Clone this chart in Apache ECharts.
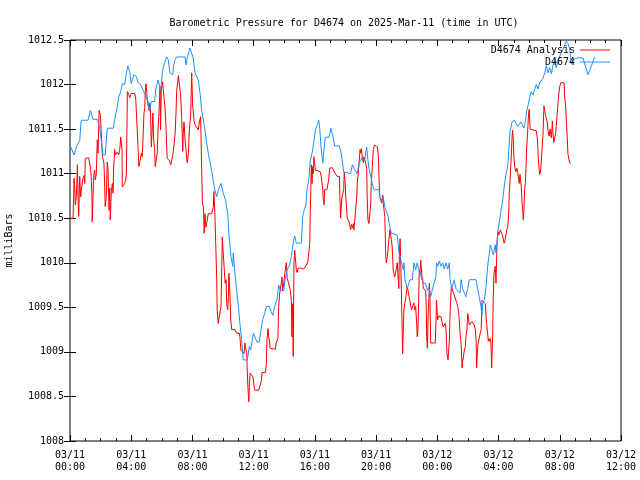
<!DOCTYPE html>
<html>
<head>
<meta charset="utf-8">
<script src="https://cdn.jsdelivr.net/npm/echarts@6/dist/echarts.min.js"></script>
<style>html,body{margin:0;padding:0;background:#fff}#c{width:640px;height:480px}</style>
</head>
<body>
<div id="c"></div>
<script>
// time in minutes since 2025-03-11 00:00 UTC
const seriesNames = ['D4674 Analysis', 'D4674'];
const xTickLabels = ['03/11\n00:00','03/11\n04:00','03/11\n08:00','03/11\n12:00','03/11\n16:00','03/11\n20:00','03/12\n00:00','03/12\n04:00','03/12\n08:00','03/12\n12:00'];
const yTickLabels = ['1008','1008.5','1009','1009.5','1010','1010.5','1011','1011.5','1012','1012.5'];

const blueTimes = [
3,16,25,38,44,71,80,90,107,116,
129,138,146,169,175,185,191,199,205,214,
221,227,234,240,250,260,267,277,286,293,
306,312,319,332,336,345,356,362,366,372,
379,385,392,403,405,412,418,451,455,460,
470,477,483,490,503,510,516,523,529,536,
542,552,559,566,575,585,592,601,610,618,
624,631,638,640,647,653,660,666,673,679,
695,703,708,719,725,733,742,749,755,763,
770,781,789,795,802,811,818,824,838,844,
851,860,868,877,881,887,907,912,920,925,
929,936,942,949,955,962,968,975,979,984,
991,995,1001,1016,1023,1030,1038,1056,1063,1073,
1079,1100,1107,1113,1126,1133,1140,1146,1155,1163,
1168,1172,1179,1185,1192,1211,1215,1220,1228,1234,
1241,1247,1254,1260,1283,1286,1290,1296,1307,1309,
1313,1322,1329,1333,1342,1348,1355,1361,1368,1377,
1385,1394,1401,1407,1414,1420,1427,1434,1437,1441,
1448,1454,1461,1467,1474,1481,1487,1490,1497,1506,
1513,1520,1529,1533,1539,1546,1552,1559,1565,1592,
1598,1604,1611,1615,1618,1624,1631,1637,1644,1648,
1654,1659,1667,1670,1674,1677,1683,1690,1696,1702,
1709,1716,1720,1725,1733,1742,1748,1755,1761,1768,
1775,1779,1785,1790,1797,1803,1808,1815,1822,1828,
1835,1841,1848,1854,1861,1867,1874,1880,1887,1893,
1900,1906,1913,1920,1926,1933,1939,1946,1952,1959,
1965,1972,1991,2011,2018,2031,2044,2057];
const blueValues = [
1011.30,1011.21,1011.30,1011.37,1011.60,1011.60,1011.71,1011.61,1011.61,1011.53,
1011.21,1011.21,1011.51,1011.51,1011.60,1011.75,1011.86,1011.92,1012.01,1012.00,
1012.13,1012.21,1012.15,1012.01,1012.11,1012.09,1012.02,1012.00,1011.94,1011.90,
1011.81,1011.70,1011.81,1011.81,1011.94,1012.05,1011.94,1012.13,1012.20,1012.22,
1012.31,1012.28,1012.13,1012.11,1012.20,1012.28,1012.31,1012.31,1012.22,1012.31,
1012.41,1012.35,1012.30,1012.13,1012.05,1011.90,1011.71,1011.60,1011.49,1011.34,
1011.23,1011.08,1010.97,1010.84,1010.74,1010.85,1010.89,1010.78,1010.70,1010.56,
1010.29,1010.07,1009.96,1010.11,1009.88,1009.69,1009.51,1009.32,1009.13,1008.91,
1008.91,1009.06,1009.02,1009.21,1009.21,1009.11,1009.11,1009.26,1009.36,1009.43,
1009.51,1009.51,1009.45,1009.41,1009.51,1009.58,1009.75,1009.69,1009.69,1009.83,
1009.92,1009.97,1010.07,1010.26,1010.30,1010.22,1010.22,1010.52,1010.61,1010.65,
1010.82,1010.93,1011.15,1011.23,1011.34,1011.49,1011.54,1011.60,1011.51,1011.30,
1011.12,1011.26,1011.41,1011.41,1011.51,1011.43,1011.31,1011.31,1011.23,1011.02,
1011.00,1011.00,1011.10,1011.06,1011.00,1011.11,1011.15,1011.19,1011.15,1011.30,
1011.15,1011.06,1010.97,1010.89,1010.82,1010.82,1010.74,1010.70,1010.74,1010.63,
1010.63,1010.52,1010.40,1010.33,1010.31,1010.22,1010.11,1010.04,1009.92,1010.00,
1009.81,1009.71,1009.71,1009.81,1009.81,1010.00,1009.92,1010.00,1009.92,1009.84,
1009.77,1009.77,1009.69,1009.73,1009.62,1009.69,1009.77,1009.84,1010.00,1009.96,
1010.02,1009.96,1010.00,1009.93,1010.00,1009.93,1010.00,1009.81,1009.71,1009.81,
1009.71,1009.71,1009.66,1009.81,1009.71,1009.66,1009.62,1009.71,1009.81,1009.81,
1009.71,1009.62,1009.51,1009.41,1009.54,1009.58,1009.73,1009.96,1010.11,1010.20,
1010.18,1010.09,1010.20,1010.11,1010.22,1010.35,1010.46,1010.59,1010.70,1010.85,
1010.99,1011.08,1011.26,1011.47,1011.58,1011.60,1011.60,1011.53,1011.51,1011.58,
1011.60,1011.51,1011.58,1011.70,1011.78,1011.87,1011.92,1011.88,1011.95,1012.00,
1011.95,1012.02,1012.02,1012.07,1012.13,1012.21,1012.13,1012.19,1012.12,1012.21,
1012.28,1012.19,1012.26,1012.32,1012.34,1012.40,1012.41,1012.49,1012.46,1012.40,
1012.23,1012.28,1012.30,1012.30,1012.23,1012.11,1012.21,1012.31];

const redTimes = [
0,12,16,18,21,25,29,31,34,38,
42,44,47,51,55,58,60,73,77,81,
83,86,87,90,93,97,99,103,107,110,
114,119,123,127,133,136,138,142,146,149,
153,156,158,162,166,169,171,175,178,182,
185,191,195,199,201,204,205,208,214,218,
221,225,230,234,240,247,254,258,263,267,
270,277,280,283,286,290,293,295,298,301,
303,306,310,312,315,319,321,325,328,332,
334,338,342,345,348,352,353,355,358,363,
368,372,376,379,381,389,395,399,403,408,
412,416,418,425,431,434,438,442,444,447,
451,455,457,460,464,468,470,473,477,479,
481,483,486,490,497,503,507,510,512,516,
519,523,526,529,533,538,542,549,555,562,
564,568,572,575,577,581,585,588,592,595,
597,601,604,608,612,614,618,621,623,627,
630,634,640,647,653,664,666,670,677,682,
686,690,693,695,698,701,703,706,710,713,
717,724,729,740,746,750,753,759,766,770,
772,776,779,783,785,792,805,808,815,818,
822,824,828,831,834,838,842,844,848,851,
855,860,864,868,870,873,875,878,881,883,
887,891,894,903,916,922,926,932,936,940,
942,944,946,949,951,954,956,959,962,968,
981,985,991,993,996,998,1007,1014,1018,1027,
1034,1040,1047,1051,1056,1058,1061,1063,1066,1069,
1073,1075,1079,1081,1085,1087,1094,1098,1100,1103,
1107,1111,1113,1116,1120,1124,1126,1130,1133,1137,
1140,1142,1146,1150,1152,1155,1159,1163,1165,1168,
1172,1176,1179,1181,1185,1189,1194,1201,1205,1209,
1211,1214,1218,1222,1226,1228,1234,1238,1240,1244,
1247,1250,1254,1260,1263,1267,1273,1277,1279,1283,
1286,1289,1291,1294,1296,1299,1301,1304,1307,1309,
1313,1317,1320,1322,1325,1329,1332,1336,1339,1342,
1346,1348,1351,1355,1359,1361,1364,1367,1369,1372,
1375,1377,1380,1383,1385,1388,1394,1397,1398,1401,
1403,1406,1409,1411,1414,1432,1435,1437,1441,1445,
1450,1454,1458,1463,1471,1474,1478,1482,1485,1487,
1491,1495,1500,1506,1510,1516,1520,1524,1526,1529,
1533,1537,1539,1543,1546,1550,1552,1556,1559,1563,
1565,1569,1576,1581,1585,1589,1592,1594,1597,1599,
1604,1608,1612,1615,1618,1622,1628,1631,1633,1637,
1640,1641,1644,1648,1650,1653,1654,1657,1659,1662,
1665,1667,1670,1673,1675,1678,1681,1683,1687,1691,
1696,1700,1702,1706,1712,1716,1720,1722,1725,1729,
1733,1735,1738,1740,1743,1748,1752,1755,1759,1761,
1764,1767,1769,1772,1775,1777,1780,1782,1785,1788,
1790,1794,1797,1800,1804,1828,1832,1835,1837,1841,
1845,1850,1854,1858,1861,1865,1867,1871,1874,1878,
1882,1887,1891,1893,1897,1900,1904,1906,1910,1916,
1920,1924,1930,1937,1939,1943,1946,1949,1952,1956,
1959,1963];
const redValues = [
1010.50,1010.50,1010.95,1010.88,1010.65,1010.74,1011.10,1010.82,1010.52,1010.97,
1010.74,1010.80,1010.78,1010.95,1010.98,1010.89,1011.17,1011.18,1011.12,1011.04,
1010.97,1010.76,1010.46,1010.73,1010.98,1011.04,1010.93,1010.99,1011.38,1011.23,
1011.71,1011.66,1011.43,1011.19,1011.12,1010.86,1010.63,1010.73,1011.13,1011.04,
1010.59,1010.84,1010.48,1010.80,1010.89,1010.78,1011.06,1011.27,1011.21,1011.19,
1011.24,1011.21,1011.27,1011.41,1011.42,1011.27,1010.85,1010.86,1010.89,1010.92,
1011.00,1011.92,1011.89,1011.85,1011.90,1011.89,1011.90,1011.83,1011.81,1011.27,
1011.08,1011.06,1011.23,1011.19,1011.38,1011.68,1011.74,1011.92,1012.01,1011.90,
1011.83,1011.81,1011.71,1011.79,1011.75,1011.30,1011.28,1011.68,1011.38,1011.27,
1011.08,1011.10,1011.23,1011.49,1011.64,1011.66,1011.98,1011.49,1011.94,1012.03,
1012.03,1011.75,1011.56,1011.30,1011.17,1011.15,1011.10,1011.08,1011.21,1011.32,
1011.45,1011.71,1011.92,1012.10,1012.10,1011.87,1011.61,1011.25,1011.45,1011.58,
1011.38,1011.27,1011.17,1011.12,1011.23,1011.49,1011.56,1011.66,1012.13,1011.94,
1011.75,1011.71,1011.60,1011.55,1011.54,1011.49,1011.58,1011.60,1011.64,1011.62,
1010.67,1010.63,1010.33,1010.55,1010.40,1010.48,1010.55,1010.57,1010.55,1010.63,
1010.80,1010.56,1010.14,1009.83,1009.47,1009.32,1009.39,1009.40,1009.51,1009.96,
1010.29,1010.10,1009.96,1009.77,1009.81,1009.54,1009.47,1009.62,1009.88,1009.66,
1009.36,1009.25,1009.23,1009.25,1009.21,1009.21,1009.17,1009.02,1009.00,1008.98,
1009.10,1009.02,1008.98,1008.78,1008.57,1008.44,1008.61,1008.76,1008.78,1008.76,
1008.72,1008.57,1008.55,1008.57,1008.57,1008.67,1008.77,1008.78,1008.77,1008.87,
1009.13,1009.26,1009.17,1009.10,1009.04,1009.03,1009.03,1009.10,1009.15,1009.51,
1009.66,1009.69,1009.77,1009.84,1009.69,1009.77,1009.88,1009.92,1010.00,1009.83,
1009.79,1009.77,1009.69,1009.56,1009.17,1009.54,1008.95,1010.00,1010.14,1010.07,
1009.92,1009.89,1009.94,1009.94,1009.93,1009.92,1009.97,1010.01,1010.11,1010.22,
1010.59,1010.82,1011.10,1010.89,1011.08,1011.00,1011.19,1011.12,1011.04,1011.03,
1011.02,1010.97,1010.82,1010.72,1010.65,1010.82,1010.82,1010.93,1011.06,1011.07,
1011.06,1011.00,1010.97,1010.99,1010.97,1010.75,1010.50,1010.60,1010.73,1010.71,
1010.82,1011.02,1010.89,1010.74,1010.59,1010.50,1010.46,1010.40,1010.37,1010.43,
1010.39,1010.44,1010.37,1010.47,1010.48,1010.74,1010.89,1011.00,1011.11,1011.27,
1011.23,1011.28,1011.19,1011.12,1011.19,1011.21,1011.12,1011.06,1010.74,1010.48,
1010.44,1010.42,1010.66,1010.89,1011.08,1011.27,1011.32,1011.32,1011.30,1011.19,
1011.00,1010.74,1010.74,1010.67,1010.76,1010.67,1010.52,1010.07,1010.00,1010.07,
1010.15,1010.26,1010.37,1010.26,1010.18,1009.92,1009.84,1009.82,1009.93,1010.00,
1009.84,1009.71,1010.07,1010.27,1010.07,1009.70,1009.40,1008.98,1009.28,1009.47,
1009.55,1009.62,1009.69,1009.73,1009.69,1009.62,1009.58,1009.51,1009.47,1009.45,
1009.49,1009.55,1009.47,1009.51,1009.32,1009.17,1009.25,1009.58,1009.92,1009.88,
1010.03,1010.05,1009.84,1009.81,1009.71,1009.73,1009.69,1009.47,1009.17,1009.04,
1009.32,1009.55,1009.77,1009.62,1009.10,1009.10,1009.36,1009.58,1009.36,1009.40,
1009.39,1009.40,1009.34,1009.28,1009.32,1009.25,1008.98,1008.91,1008.93,1009.13,
1009.51,1009.73,1009.71,1009.64,1009.66,1009.55,1009.51,1009.43,1009.36,1009.21,
1009.10,1008.82,1008.88,1008.90,1009.02,1009.06,1009.17,1009.25,1009.43,1009.36,
1009.30,1009.30,1009.34,1009.32,1009.30,1009.25,1009.13,1008.82,1008.99,1009.08,
1009.10,1009.21,1009.25,1009.58,1009.58,1009.56,1009.54,1009.54,1009.32,1009.21,
1009.12,1009.15,1009.12,1009.15,1009.10,1008.82,1008.91,1009.21,1009.58,1009.88,
1009.92,1009.96,1009.77,1010.11,1010.26,1010.35,1010.31,1010.33,1010.37,1010.35,
1010.30,1010.28,1010.22,1010.26,1010.37,1010.40,1010.57,1010.78,1010.93,1011.15,
1011.41,1011.49,1011.38,1011.19,1011.08,1011.02,1011.06,1011.02,1010.93,1010.89,
1010.99,1010.97,1010.86,1010.67,1010.59,1010.48,1010.63,1010.82,1010.89,1011.08,
1011.28,1011.47,1011.64,1011.72,1011.50,1011.48,1011.40,1011.23,1011.12,1010.99,
1011.03,1011.05,1011.43,1011.76,1011.70,1011.65,1011.62,1011.58,1011.48,1011.42,
1011.50,1011.40,1011.59,1011.46,1011.35,1011.33,1011.46,1011.53,1011.68,1011.89,
1011.98,1012.02,1012.03,1012.02,1011.87,1011.76,1011.57,1011.42,1011.22,1011.22,
1011.12,1011.11];

const FONT = 'DejaVu Sans Mono';
const chart = echarts.init(document.getElementById('c'), null, {renderer: 'canvas'});

function xAxisDef(pos, showLabels) {
  return {
    type: 'value', position: pos, min: 0, max: 2160, interval: 240,
    axisLine: {show: false},
    axisTick: {show: true, inside: true, length: 6, lineStyle: {color: '#000', width: 1}},
    minorTick: {show: true, splitNumber: 4, length: 3, lineStyle: {color: '#000', width: 1}},
    splitLine: {show: false},
    axisLabel: {
      show: showLabels, margin: 8, color: '#000', fontFamily: FONT, fontSize: 10, lineHeight: 12,
      formatter: v => xTickLabels[Math.round(v / 240)] || ''
    }
  };
}
function yAxisDef(pos, showLabels) {
  return {
    type: 'value', position: pos, min: 1008, max: 1012.5, interval: 0.5,
    axisLine: {show: false},
    axisTick: {show: true, inside: true, length: 6, lineStyle: {color: '#000', width: 1}},
    splitLine: {show: false},
    axisLabel: {
      show: showLabels, margin: 6, color: '#000', fontFamily: FONT, fontSize: 10,
      formatter: v => yTickLabels[Math.round((v - 1008) / 0.5)] || ''
    },
    name: showLabels ? 'milliBars' : '',
    nameLocation: 'middle', nameGap: 56, nameRotate: 90,
    nameTextStyle: {color: '#000', fontFamily: FONT, fontSize: 10}
  };
}

chart.setOption({
  animation: false,
  backgroundColor: '#fff',
  textStyle: {fontFamily: FONT},
  title: {
    text: 'Barometric Pressure for D4674 on 2025-Mar-11 (time in UTC)',
    left: 339, top: 13, textAlign: 'center',
    textStyle: {fontFamily: FONT, fontSize: 10, fontWeight: 'normal', color: '#000'}
  },
  legend: {
    orient: 'vertical', right: 30, top: 44, align: 'right', padding: 0,
    itemWidth: 30, itemHeight: 1, itemGap: 0, icon: 'rect',
    textStyle: {fontFamily: FONT, fontSize: 10, color: '#000', lineHeight: 12},
    data: seriesNames
  },
  grid: {left: 70, right: 19, top: 40, bottom: 39, containLabel: false, outerBoundsMode: 'none',
         show: true, borderColor: '#000', borderWidth: 1, backgroundColor: 'transparent'},
  xAxis: [xAxisDef('bottom', true), xAxisDef('top', false)],
  yAxis: [yAxisDef('left', true), yAxisDef('right', false)],
  series: [
    {
      name: seriesNames[0], type: 'line', xAxisIndex: 0, yAxisIndex: 0,
      data: redTimes.map((t, i) => [t, redValues[i]]),
      showSymbol: false, symbol: 'none', color: '#ff0000',
      lineStyle: {width: 1, color: '#ff0000'}, sampling: null
    },
    {
      name: seriesNames[1], type: 'line', xAxisIndex: 0, yAxisIndex: 0,
      data: blueTimes.map((t, i) => [t, blueValues[i]]),
      showSymbol: false, symbol: 'none', color: '#1e90ff',
      lineStyle: {width: 1, color: '#1e90ff'}, sampling: null
    }
  ]
});
</script>
</body>
</html>
